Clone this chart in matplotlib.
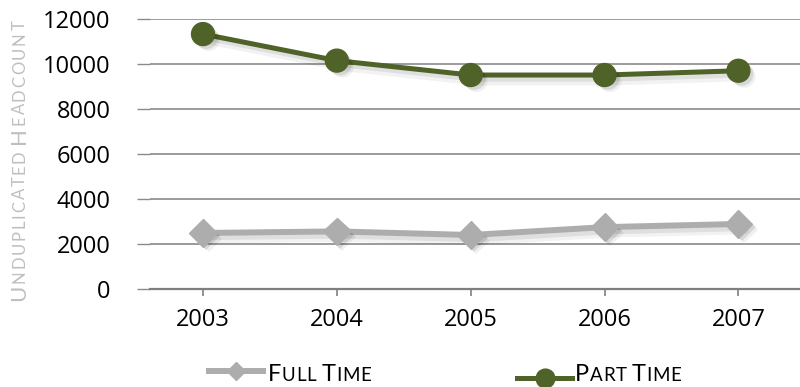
import matplotlib
matplotlib.use("Agg")
import matplotlib.pyplot as plt
import matplotlib.patheffects as pe
from matplotlib.lines import Line2D

years = ["2003", "2004", "2005", "2006", "2007"]
full_time = [2490, 2560, 2400, 2750, 2890]
part_time = [11330, 10150, 9510, 9510, 9700]
y_ticks = [0, 2000, 4000, 6000, 8000, 10000, 12000]

gray = "#adadad"
green = "#4f6228"
label_font = "Lato"

fig = plt.figure(figsize=(8, 3.87), dpi=100)
ax = fig.add_axes([150 / 800, 98 / 387, 650 / 800, 270 / 387])

x = range(len(years))

# soft drop shadow: a few faint offset copies under each series
line_shadow = [
    pe.SimpleLineShadow(offset=(4, -4), shadow_color="black", alpha=0.05, linewidth=7),
    pe.SimpleLineShadow(offset=(3, -3), shadow_color="black", alpha=0.08),
    pe.Normal(),
]
dot_shadow = [
    pe.SimplePatchShadow(offset=(4, -4), shadow_rgbFace="black", alpha=0.06),
    pe.SimplePatchShadow(offset=(2.5, -2.5), shadow_rgbFace="black", alpha=0.1),
    pe.Normal(),
]

ax.plot(x, full_time, color=gray, lw=4.3, solid_capstyle="round", path_effects=line_shadow, zorder=3)
ax.plot(x, full_time, ls="none", marker="D", ms=14, color=gray, mec=gray, path_effects=dot_shadow, zorder=4)
ax.plot(x, part_time, color=green, lw=3.6, solid_capstyle="round", path_effects=line_shadow, zorder=3)
ax.plot(x, part_time, ls="none", marker="o", ms=16.5, color=green, mec=green, path_effects=dot_shadow, zorder=4)

ax.set_xlim(-0.396, 4.46)
ax.set_ylim(0, 12000)
ax.set_xticks(list(x))
ax.set_xticklabels(years)
ax.set_yticks(y_ticks)
ax.set_yticklabels([str(v) for v in y_ticks])

for side in ["left", "top", "right"]:
    ax.spines[side].set_visible(False)
ax.spines["bottom"].set_color("#7f7f7f")
ax.spines["bottom"].set_linewidth(1.6)
ax.grid(axis="y", color="#8a8a8a", lw=1.2)
ax.set_axisbelow(True)

ax.tick_params(axis="y", direction="out", length=9.5, width=1, color="#8a8a8a", pad=19)
ax.tick_params(axis="x", direction="out", length=5, width=1.2, color="#7f7f7f", pad=9)
for lab in ax.get_xticklabels() + ax.get_yticklabels():
    lab.set_fontfamily("Open Sans")
    lab.set_fontsize(17)
    lab.set_color("black")

renderer = fig.canvas.get_renderer()


def text_width(s, size):
    if not s:
        return 0.0
    t = fig.text(0, 0, s, fontsize=size, fontfamily=label_font)
    w = t.get_window_extent(renderer).width
    t.remove()
    return w


def small_caps(px, py, text, big, small, color, rotation=0, track=0.0):
    # big first letter per word, small capitals for the rest, with extra letter spacing
    space = text_width("A A", small) - text_width("AA", small)
    pos = 0.0
    for word in text.split(" "):
        word = word.upper()
        for run, size in [(word[0], big), (word[1:], small)]:
            for k, ch in enumerate(run):
                off = pos + text_width(run[:k], size) + track * k
                if rotation == 90:
                    xx, yy = px, py + off
                else:
                    xx, yy = px + off, py
                fig.text(xx / 800, yy / 387, ch, fontsize=size, fontfamily=label_font,
                         color=color, rotation=rotation, rotation_mode="anchor",
                         ha="left", va="baseline")
            pos += text_width(run, size) + track * len(run)
        pos += space


# y axis title, drawn bottom to top
small_caps(25, 387 - 301, "Unduplicated Headcount", 16, 12, "#bfbfbf", rotation=90, track=1.8)

# legend entries
fig.add_artist(Line2D([209 / 800, 263 / 800], [(387 - 371) / 387] * 2, color=gray, lw=4.3))
fig.add_artist(Line2D([236 / 800], [(387 - 371) / 387], marker="D", ms=9, color=gray))
small_caps(268, 387 - 381, "Full Time", 17, 13.5, "black", track=0.6)

fig.add_artist(Line2D([517 / 800, 572 / 800], [(387 - 378) / 387] * 2, color=green, lw=3.6))
fig.add_artist(Line2D([545 / 800], [(387 - 378) / 387], marker="o", ms=13.5, color=green))
small_caps(575, 387 - 381, "Part Time", 17, 13.5, "black", track=0.6)

fig.savefig("out.png", dpi=100)
